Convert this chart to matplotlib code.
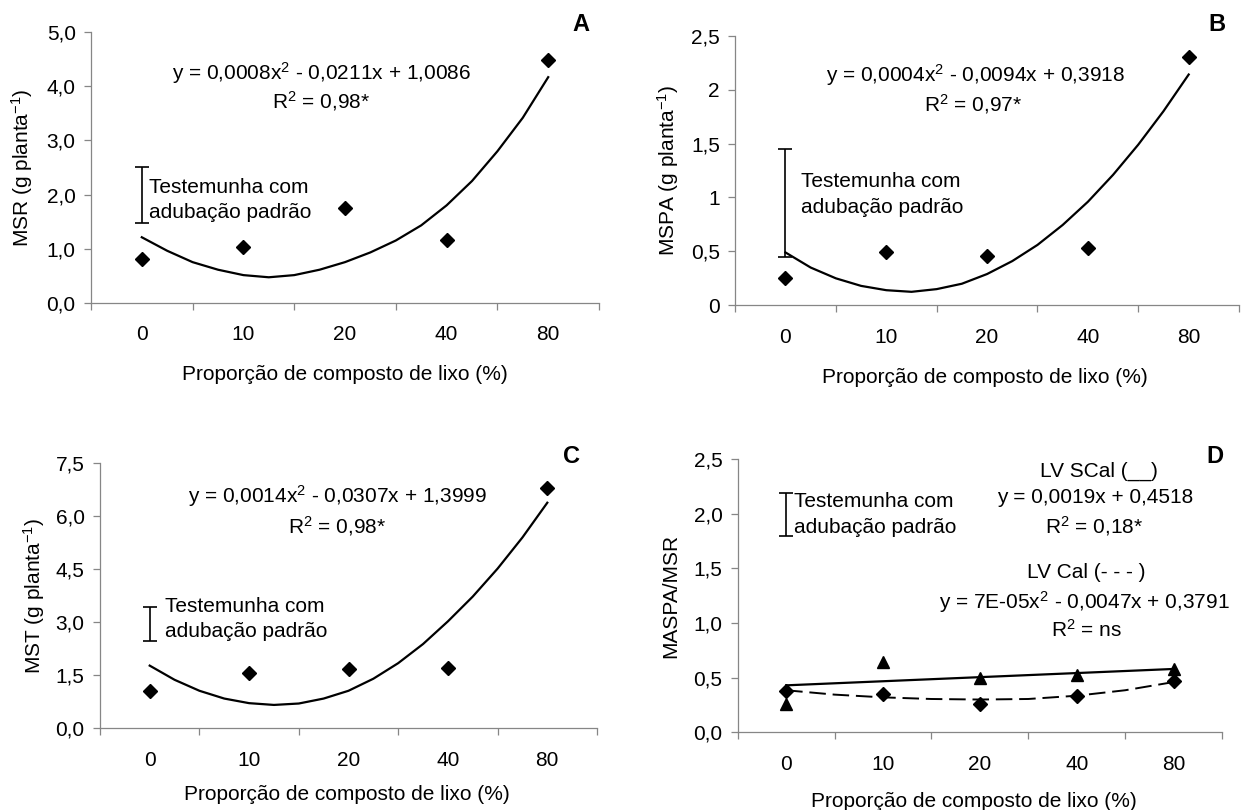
import matplotlib
matplotlib.use('Agg')
import matplotlib.pyplot as plt

plt.rcParams['font.family'] = ['Liberation Sans', 'DejaVu Sans']
plt.rcParams['mathtext.fontset'] = 'custom'
plt.rcParams['mathtext.rm'] = 'Liberation Sans'
plt.rcParams['mathtext.it'] = 'Liberation Sans:italic'
plt.rcParams['mathtext.bf'] = 'Liberation Sans:bold'

# ---------------- data ----------------
categories = ['0', '10', '20', '40', '80']
cat_pos = [0, 1, 2, 3, 4]
curve_pos = [0, 0.25, 0.5, 0.75, 1.0, 1.25, 1.5, 1.75, 2.0,
             2.25, 2.5, 2.75, 3.0, 3.25, 3.5, 3.75, 4.0]

msr_obs = [0.80, 1.03, 1.75, 1.16, 4.49]
msr_fit = [1.21, 0.96, 0.75, 0.61, 0.51, 0.47, 0.51, 0.61, 0.75,
           0.93, 1.15, 1.43, 1.80, 2.25, 2.80, 3.42, 4.17]

mspa_obs = [0.25, 0.49, 0.46, 0.535, 2.30]
mspa_fit = [0.49, 0.35, 0.25, 0.18, 0.14, 0.125, 0.15, 0.20, 0.29,
            0.41, 0.56, 0.745, 0.96, 1.21, 1.49, 1.80, 2.14]

mst_obs = [1.06, 1.55, 1.665, 1.69, 6.79]
mst_fit = [1.77, 1.37, 1.06, 0.84, 0.71, 0.66, 0.70, 0.84, 1.06,
           1.40, 1.84, 2.38, 3.02, 3.72, 4.51, 5.39, 6.37]

ratio_scal_obs = [0.26, 0.647, 0.495, 0.525, 0.577]
ratio_scal_fit_pos = [0, 4]
ratio_scal_fit = [0.43, 0.58]
ratio_cal_obs = [0.38, 0.351, 0.26, 0.336, 0.47]
ratio_cal_fit_pos = [0, 0.5, 1.0, 1.5, 2.0, 2.5, 3.0, 3.5, 4.0]
ratio_cal_fit = [0.385, 0.345, 0.32, 0.305, 0.30, 0.305, 0.335, 0.385, 0.46]

# control ("Testemunha com adubação padrão") ranges
control_A = (1.48, 2.50)
control_B = (0.45, 1.45)
control_C = (2.465, 3.43)
control_D = (1.80, 2.19)

yticks_A = [0, 1, 2, 3, 4, 5]
ylabels_A = ['0,0', '1,0', '2,0', '3,0', '4,0', '5,0']
yticks_B = [0, 0.5, 1, 1.5, 2, 2.5]
ylabels_B = ['0', '0,5', '1', '1,5', '2', '2,5']
yticks_C = [0, 1.5, 3, 4.5, 6, 7.5]
ylabels_C = ['0,0', '1,5', '3,0', '4,5', '6,0', '7,5']
yticks_D = [0, 0.5, 1.0, 1.5, 2.0, 2.5]
ylabels_D = ['0,0', '0,5', '1,0', '1,5', '2,0', '2,5']

xlabel = 'Proporção de composto de lixo (%)'
ctrl_l1 = 'Testemunha com'
ctrl_l2 = 'adubação padrão'

# ---------------- figure ----------------
fig = plt.figure(figsize=(12.44, 8.10), dpi=100)
SPINE = '#868686'
FS = 15
TFS = 15

def setup(ax, yticks, ylabels):
    ax.set_xlim(-0.5, 4.5)
    ax.set_ylim(yticks[0], yticks[-1])
    for s in ['top', 'right']:
        ax.spines[s].set_visible(False)
    for s in ['left', 'bottom']:
        ax.spines[s].set_color(SPINE)
        ax.spines[s].set_linewidth(0.9)
    ax.set_xticks(cat_pos)
    ax.set_xticklabels(categories, fontsize=TFS)
    ax.set_xticks([-0.5, 0.5, 1.5, 2.5, 3.5, 4.5], minor=True)
    ax.tick_params(axis='x', which='major', length=0, pad=16)
    ax.tick_params(axis='x', which='minor', length=5, width=0.9,
                   color=SPINE, direction='out')
    ax.set_yticks(yticks)
    ax.set_yticklabels(ylabels, fontsize=TFS)
    ax.tick_params(axis='y', length=5, width=0.9, color=SPINE,
                   direction='out', pad=6)

def control(ax, rng, tx, ty1, ty2):
    lo, hi = rng
    ax.errorbar([0], [(lo + hi) / 2], yerr=[[(hi - lo) / 2], [(hi - lo) / 2]],
                fmt='none', ecolor='black', elinewidth=1.2, capsize=5,
                capthick=1.2, zorder=3)
    ax.text(tx, ty1, ctrl_l1, transform=ax.transAxes, fontsize=FS,
            ha='left', va='center')
    ax.text(tx, ty2, ctrl_l2, transform=ax.transAxes, fontsize=FS,
            ha='left', va='center')

def labels(ax, ylab, yx, xly, xlx=0.5):
    ax.text(yx, 0.5, ylab, transform=ax.transAxes, fontsize=FS,
            rotation=90, ha='center', va='center')
    ax.text(xlx, xly, xlabel, transform=ax.transAxes, fontsize=FS,
            ha='center', va='center')

def letter(ax, s, x, y):
    ax.text(x, y, s, transform=ax.transAxes, fontsize=17,
            fontweight='bold', ha='center', va='center')

def txt(ax, s, x, y):
    ax.text(x, y, s, transform=ax.transAxes, fontsize=FS,
            ha='center', va='center')

# Panel A
axA = fig.add_axes([0.07315, 0.62630, 0.40836, 0.33383])
setup(axA, yticks_A, ylabels_A)
axA.plot(curve_pos, msr_fit, color='black', lw=1.6)
axA.plot(cat_pos, msr_obs, ls='none', marker='D', ms=7.5, color='black')
control(axA, control_A, 0.1145, 0.425, 0.333)
txt(axA, r'y = 0,0008x$^{2}$ - 0,0211x + 1,0086', 0.453, 0.849)
txt(axA, r'R$^{2}$ = 0,98*', 0.453, 0.746)
letter(axA, 'A', 0.965, 1.027)
labels(axA, r'MSR (g planta$^{-1}$)', -0.135, -0.264)

# Panel B
axB = fig.add_axes([0.59091, 0.62309, 0.40514, 0.33284])
setup(axB, yticks_B, ylabels_B)
axB.plot(curve_pos, mspa_fit, color='black', lw=1.6)
axB.plot(cat_pos, mspa_obs, ls='none', marker='D', ms=7.5, color='black')
control(axB, control_B, 0.130, 0.458, 0.363)
txt(axB, r'y = 0,0004x$^{2}$ - 0,0094x + 0,3918', 0.476, 0.854)
txt(axB, r'R$^{2}$ = 0,97*', 0.472, 0.747)
letter(axB, 'B', 0.957, 1.04)
labels(axB, r'MSPA (g planta$^{-1}$)', -0.134, -0.266, 0.496)

# Panel C
axC = fig.add_axes([0.08039, 0.10086, 0.39952, 0.32790])
setup(axC, yticks_C, ylabels_C)
axC.plot(curve_pos, mst_fit, color='black', lw=1.6)
axC.plot(cat_pos, mst_obs, ls='none', marker='D', ms=7.5, color='black')
control(axC, control_C, 0.130, 0.458, 0.364)
txt(axC, r'y = 0,0014x$^{2}$ - 0,0307x + 1,3999', 0.477, 0.876)
txt(axC, r'R$^{2}$ = 0,98*', 0.477, 0.762)
letter(axC, 'C', 0.948, 1.023)
labels(axC, r'MST (g planta$^{-1}$)', -0.133, -0.251, 0.497)

# Panel D
axD = fig.add_axes([0.59301, 0.09593, 0.38931, 0.33704])
setup(axD, yticks_D, ylabels_D)
axD.plot(ratio_scal_fit_pos, ratio_scal_fit, color='black', lw=1.6)
lc, = axD.plot(ratio_cal_fit_pos, ratio_cal_fit, color='black', lw=1.4)
lc.set_dashes([8.5, 3.5])
axD.plot(cat_pos, ratio_scal_obs, ls='none', marker='^', ms=9, color='black')
axD.plot(cat_pos, ratio_cal_obs, ls='none', marker='D', ms=7, color='black')
control(axD, control_D, 0.117, 0.845, 0.749)
txt(axD, 'LV SCal (__)', 0.745, 0.957)
txt(axD, r'y = 0,0019x + 0,4518', 0.739, 0.859)
txt(axD, r'R$^{2}$ = 0,18*', 0.736, 0.756)
txt(axD, 'LV Cal (- - - )', 0.72, 0.586)
txt(axD, r'y = 7E-05x$^{2}$ - 0,0047x + 0,3791', 0.716, 0.478)
txt(axD, r'R$^{2}$ = ns', 0.72, 0.375)
letter(axD, 'D', 0.986, 1.01)
labels(axD, 'MASPA/MSR', -0.139, -0.252, 0.487)

fig.savefig('out.png', dpi=100)
